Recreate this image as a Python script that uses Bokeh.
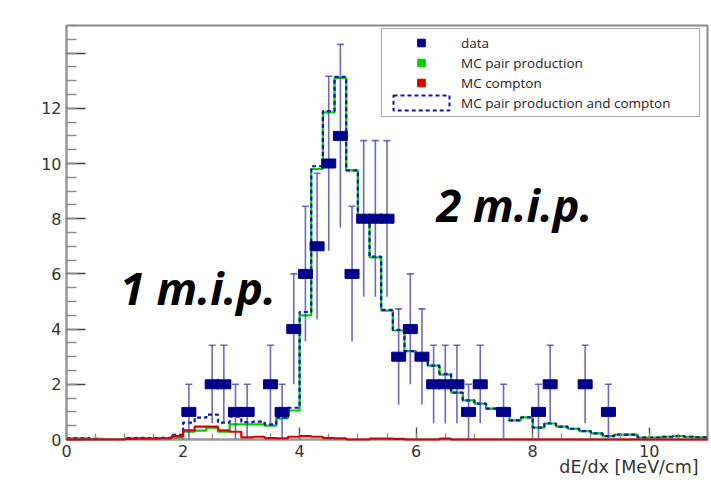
import numpy as np
from bokeh.plotting import figure
from bokeh.models import (Range1d, SingleIntervalTicker, Legend, LegendItem, Label,
                          ColumnDataSource, Title)
from bokeh.embed import file_html
from bokeh.resources import INLINE

# ---- binning of the dE/dx histograms (MeV/cm) ----
bin_start = 0.0
bin_width = 0.2
n_bins = 55

# MC pair production, per bin
mc_pair = [0.04, 0.04, 0.02, 0.0, 0.0, 0.03, 0.03, 0.02, 0.02, 0.05,
           0.28, 0.32, 0.43, 0.28, 0.55, 0.55, 0.55, 0.50, 0.76, 1.05,
           4.50, 9.80, 11.85, 13.10, 9.75, 8.00, 6.60, 4.67, 3.95, 3.20,
           3.00, 2.68, 2.35, 1.70, 1.42, 1.30, 1.12, 1.00, 0.69, 0.80,
           0.43, 0.58, 0.47, 0.39, 0.30, 0.22, 0.12, 0.18, 0.18, 0.07,
           0.07, 0.10, 0.12, 0.10, 0.08]

# MC compton, per bin
mc_compton = [0.0, 0.0, 0.0, 0.0, 0.0, 0.02, 0.03, 0.03, 0.04, 0.12,
              0.33, 0.47, 0.47, 0.33, 0.28, 0.08, 0.10, 0.05, 0.04, 0.10,
              0.12, 0.10, 0.05, 0.04, 0.0, 0.0, 0.03, 0.03, 0.02, 0.0,
              0.0, 0.0, 0.03, 0.0, 0.0, 0.0, 0.0, 0.0, 0.0, 0.0,
              0.0, 0.0, 0.0, 0.0, 0.0, 0.0, 0.0, 0.0, 0.0, 0.0,
              0.0, 0.0, 0.0, 0.0, 0.0]

# measured entries (bin centres and counts)
data_x = [2.1, 2.5, 2.7, 2.9, 3.1, 3.5, 3.7, 3.9, 4.1, 4.3, 4.5, 4.7, 4.9,
          5.1, 5.3, 5.5, 5.7, 5.9, 6.1, 6.3, 6.5, 6.7, 6.9, 7.1, 7.5,
          8.1, 8.3, 8.9, 9.3]
data_n = [1, 2, 2, 1, 1, 2, 1, 4, 6, 7, 10, 11, 6,
          8, 8, 8, 3, 4, 3, 2, 2, 2, 1, 2, 1,
          1, 2, 2, 1]

x_limits = (0, 11)
y_limits = (0, 15)
x_title = "dE/dx [MeV/cm]"

NAVY = "#00008b"
GREEN = "#00d000"
RED = "#dd0000"
BLUE = "#1010c0"
ERR = "#3a3ab0"
AXIS_FONT = "DejaVu Sans"

p = figure(width=711, height=492, x_range=Range1d(*x_limits), y_range=Range1d(*y_limits),
           output_backend="svg", toolbar_location=None,
           min_border_left=66, min_border_right=4, min_border_top=25, min_border_bottom=53)
p.xgrid.visible = False
p.ygrid.visible = False
p.background_fill_color = "white"
p.border_fill_color = "white"
p.outline_line_color = "#8a8a8a"
p.outline_line_width = 2

# ---- axes: ticks drawn inside the frame ----
for ax, tin, tmin in ((p.xaxis[0], 12, 6), (p.yaxis[0], 19, 10)):
    ax.ticker = SingleIntervalTicker(interval=2, num_minor_ticks=4)
    ax.major_tick_in = tin
    ax.major_tick_out = 0
    ax.minor_tick_in = tmin
    ax.minor_tick_out = 0
    ax.axis_line_color = "#999999"
    ax.axis_line_width = 2
    ax.major_tick_line_color = "#444444"
    ax.major_tick_line_width = 1.3
    ax.minor_tick_line_color = "#8c8c8c"
    ax.minor_tick_line_width = 1.3
    ax.major_label_text_font = AXIS_FONT
    ax.major_label_text_font_size = "16px"
    ax.major_label_text_color = "#333333"
    ax.major_label_standoff = 5
p.yaxis[0].major_label_overrides = {14: ""}

# x-axis title, right-aligned under the axis
p.add_layout(Title(text=x_title, align="right", offset=9, standoff=-9,
                   text_font=AXIS_FONT, text_font_style="normal",
                   text_font_size="17.5px", text_color="#333333"), "below")

# ---- histograms as step outlines ----
edges = bin_start + bin_width * np.arange(n_bins + 1)
pair = np.array(mc_pair)
compton = np.array(mc_compton)
total = pair + compton


def outline(v):
    return np.append(v, v[-1])


p.step(edges, outline(pair), mode="after", line_color=GREEN, line_width=2.2)
p.step(edges, outline(total), mode="after", line_color=BLUE, line_width=2.2, line_dash="4 3")
p.step(edges, outline(compton), mode="after", line_color=RED, line_width=2.2, level="overlay")

# ---- data with Poisson errors ----
n = np.array(data_n, dtype=float)
err = np.sqrt(n)
src = ColumnDataSource(dict(x=data_x, y=n, lo=n - err, hi=n + err))
p.segment(x0="x", y0="lo", x1="x", y1="hi", source=src, line_color=ERR,
          line_alpha=0.75, line_width=1.6)
p.scatter(x="x", y="hi", source=src, marker="dash", size=7, line_color=ERR,
          line_alpha=0.75, line_width=1.6)
p.rect(x="x", y="y", source=src, width=14, height=9, width_units="screen",
       height_units="screen", fill_color=NAVY, line_color=NAVY, line_width=1)

# ---- legend ----
nan = [np.nan]
lg_data = p.scatter(nan, nan, marker="square", size=8, fill_color=NAVY, line_color=NAVY)
lg_pair = p.scatter(nan, nan, marker="square", size=8, fill_color=GREEN, line_color=GREEN)
lg_comp = p.scatter(nan, nan, marker="square", size=8, fill_color=RED, line_color=RED)
lg_tot = p.rect(nan, nan, width=1, height=1, fill_alpha=0, line_color=BLUE,
                line_width=2, line_dash="4 3")
legend = Legend(items=[
    LegendItem(label="data", renderers=[lg_data]),
    LegendItem(label="MC pair production", renderers=[lg_pair]),
    LegendItem(label="MC compton", renderers=[lg_comp]),
    LegendItem(label="MC pair production and compton", renderers=[lg_tot]),
], location=(315, 322), orientation="vertical")
legend.padding = 4
legend.spacing = 1
legend.margin = 0
legend.glyph_width = 70
legend.glyph_height = 19
legend.label_height = 19
legend.label_width = 234
legend.label_standoff = 5
legend.label_text_font = "Open Sans"
legend.label_text_font_size = "13.5px"
legend.label_text_color = "#222222"
legend.border_line_color = "#555555"
legend.border_line_width = 1.5
legend.background_fill_color = "white"
legend.background_fill_alpha = 1
p.add_layout(legend)

# ---- annotations ----
for txt, xx, yy in (("1 m.i.p.", 0.92, 5.5), ("2 m.i.p.", 6.35, 8.5)):
    p.add_layout(Label(x=xx, y=yy, text=txt, text_font="Open Sans",
                       text_font_style="bold italic", text_font_size="45px",
                       text_color="black", text_baseline="alphabetic"))

open("out.html", "w").write(file_html(p, INLINE))
